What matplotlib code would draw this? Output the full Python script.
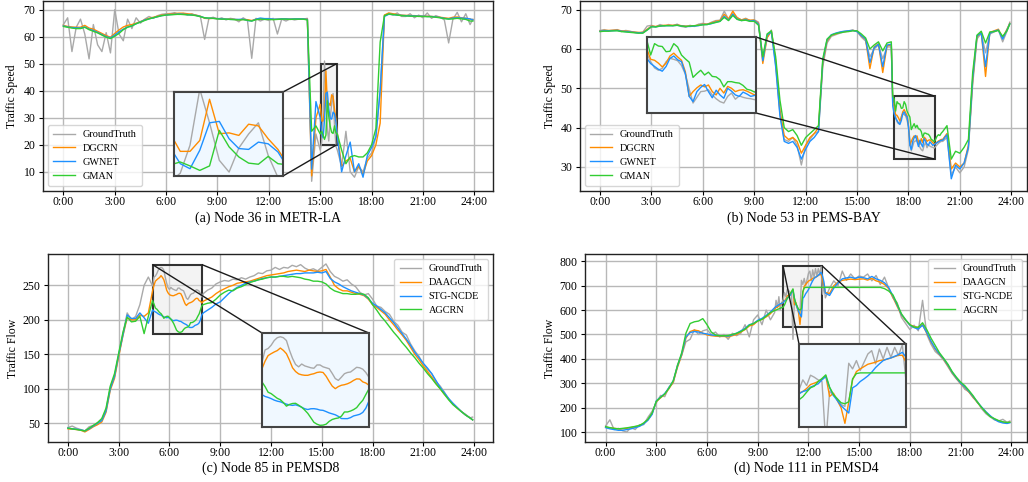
import numpy as np
import matplotlib
matplotlib.use("Agg")
import matplotlib.pyplot as plt
from mpl_toolkits.axes_grid1.inset_locator import mark_inset

plt.rcParams['font.family'] = ['Liberation Serif', 'DejaVu Serif']

# ---------------- time grid (15-min, 5-min inside zoomed hours) ----------------
def hour_grid(dense):
    t = []
    for h in range(24):
        step = 5 if h in dense else 15
        t.extend(h + m / 60 for m in range(0, 60, step))
    t.append(23 + 55 / 60)
    return np.array(t)

hour_ticks = list(range(0, 25, 3))
hour_labels = [f"{h}:00" for h in hour_ticks]

# ---------------- (a) Node 36 in METR-LA (dense hour 15) ----------------
a_names = ['GroundTruth', 'DGCRN', 'GWNET', 'GMAN']
a_gt = [64.5, 67.0, 54.5, 63.5, 66.5, 61.0, 51.8, 64.5, 57.0, 54.5, 61.5, 54.0,
        70.0, 61.0, 58.5, 66.5, 63.0, 67.0, 65.0, 66.5, 67.5, 66.8, 67.8, 68.3,
        68.5, 68.6, 68.9, 68.2, 68.6, 68.0, 68.5, 67.8, 67.5, 59.0, 66.8, 67.2,
        66.5, 67.0, 66.2, 66.8, 66.5, 65.5, 67.0, 66.0, 52.0, 66.8, 65.8, 66.5,
        66.0, 66.8, 61.0, 66.5, 65.8, 66.6, 66.2, 66.5, 66.5, 66.8, 6.5, 24.0,
        18.0, 21.0, 31.0, 51.0, 39.0, 25.6, 21.4, 30.0, 35.0, 39.0, 27.4, 19.5,
        18.0, 12.0, 25.0, 10.0, 8.0, 12.0, 10.0, 15.0, 17.0, 23.0, 40.0, 68.0,
        68.5, 68.0, 68.8, 67.5, 67.5, 68.5, 67.0, 68.0, 67.0, 68.8, 66.8, 67.8,
        67.2, 66.2, 57.7, 66.5, 69.0, 65.5, 68.5, 64.5, 66.5]
a_dgcrn = [64.2, 63.8, 63.6, 63.5, 63.5, 64.2, 63.2, 62.8, 62.0, 61.2, 60.4, 59.8,
           61.2, 62.5, 63.6, 64.2, 64.5, 65.0, 65.6, 66.3, 66.8, 67.2, 67.6, 68.0,
           68.2, 68.4, 68.6, 68.7, 68.7, 68.5, 68.3, 68.0, 67.6, 66.8, 66.7, 66.8,
           66.7, 66.6, 66.5, 66.5, 66.4, 66.3, 66.4, 66.3, 66.0, 66.5, 66.6, 66.5,
           66.5, 66.4, 66.5, 66.6, 66.6, 66.5, 66.6, 66.6, 66.6, 66.5, 8.5, 30.0,
           35.0, 28.8, 28.8, 32.7, 47.4, 35.1, 35.4, 34.5, 38.5, 37.9, 33.3, 29.5,
           24.0, 12.0, 14.0, 15.0, 10.0, 12.0, 9.0, 14.0, 16.0, 20.0, 28.0, 68.0,
           68.8, 68.5, 68.2, 68.0, 67.9, 67.8, 67.8, 67.7, 67.6, 67.6, 67.5, 67.4,
           67.2, 67.0, 66.8, 67.2, 67.3, 67.0, 66.8, 66.5, 66.3]
a_gwnet = [64.0, 63.6, 63.4, 63.3, 63.2, 63.6, 62.8, 62.3, 61.6, 60.8, 60.0, 59.6,
           60.6, 61.8, 62.8, 63.6, 64.0, 64.8, 65.5, 66.2, 66.6, 67.0, 67.4, 67.8,
           68.0, 68.2, 68.3, 68.4, 68.3, 68.2, 68.0, 67.9, 67.5, 67.0, 66.8, 66.8,
           66.7, 66.6, 66.5, 66.4, 66.4, 66.4, 66.5, 66.0, 65.8, 66.5, 66.9, 66.7,
           66.7, 66.5, 66.5, 66.6, 66.6, 66.5, 66.6, 66.6, 66.6, 66.4, 11.0, 36.0,
           30.0, 24.4, 22.6, 29.2, 39.0, 39.5, 33.3, 29.8, 29.5, 32.1, 31.5, 28.6,
           23.0, 10.0, 16.0, 21.0, 10.0, 13.0, 8.0, 16.0, 19.0, 23.0, 40.0, 67.5,
           68.3, 68.2, 68.0, 67.9, 67.8, 67.7, 67.7, 67.6, 67.6, 67.5, 67.5, 67.3,
           67.1, 66.8, 66.6, 66.9, 67.0, 66.9, 66.8, 66.6, 66.2]
a_gman = [63.8, 63.5, 63.2, 63.0, 63.0, 63.5, 62.6, 62.0, 61.4, 60.6, 59.8, 59.3,
          60.2, 61.2, 62.6, 63.5, 64.0, 64.8, 65.4, 66.0, 66.6, 67.0, 67.4, 67.8,
          68.0, 68.1, 68.2, 68.3, 68.2, 68.1, 68.0, 67.8, 67.4, 67.0, 66.9, 66.8,
          66.6, 66.5, 66.5, 66.4, 66.3, 66.2, 66.3, 66.1, 65.8, 66.3, 66.5, 66.4,
          66.4, 66.3, 66.4, 66.5, 66.5, 66.4, 66.5, 66.5, 66.5, 66.2, 25.0, 27.0,
          24.0, 25.0, 23.6, 22.0, 23.6, 36.3, 30.4, 26.8, 24.6, 24.2, 27.0, 24.4,
          24.0, 18.0, 13.0, 15.5, 16.0, 15.5, 15.5, 17.0, 20.0, 26.0, 58.0, 67.8,
          68.4, 68.2, 68.0, 67.8, 67.7, 67.6, 67.6, 67.5, 67.5, 67.4, 67.4, 67.2,
          67.0, 66.7, 66.5, 66.6, 66.8, 66.6, 66.4, 65.8, 65.8]
a_yticks = [10, 20, 30, 40, 50, 60, 70]

# ---------------- (b) Node 53 in PEMS-BAY (dense hours 17-19) ----------------
b_names = ['GroundTruth', 'DGCRN', 'GWNET', 'GMAN']
b_gt = [64.7, 64.9, 64.6, 64.8, 64.9, 64.4, 64.7, 64.5, 64.2, 64.0, 64.3, 65.8,
        66.0, 65.6, 66.2, 65.8, 66.2, 65.9, 66.3, 65.7, 65.5, 66.0, 65.7, 66.3,
        66.5, 66.2, 66.8, 67.2, 67.3, 69.6, 67.5, 69.0, 68.0, 67.3, 67.8, 67.2,
        67.4, 66.8, 57.5, 63.0, 64.8, 56.0, 43.5, 37.0, 36.5, 37.5, 35.5, 30.5,
        35.5, 37.0, 38.5, 39.0, 55.5, 61.5, 63.2, 63.6, 64.0, 64.3, 64.6, 64.8,
        64.4, 63.0, 62.0, 58.0, 60.0, 61.0, 57.5, 60.5,
        60.5, 46.0, 44.5, 42.8, 41.5, 41.0, 41.4, 42.8, 43.5, 43.3, 43.0, 42.0,
        40.2, 37.0, 34.1, 35.3, 36.5, 36.6, 36.9, 35.8, 35.0, 34.4, 34.1, 35.5,
        36.2, 34.9, 35.6, 35.3, 35.1, 35.0, 34.8, 35.2, 35.6, 36.0, 36.3, 36.5,
        36.5, 37.5, 28.0, 30.0, 28.5, 30.0, 34.5, 51.0, 62.5, 64.0, 59.0, 63.8,
        64.3, 64.8, 61.8, 64.5, 66.8]
b_dgcrn = [64.6, 64.7, 64.7, 64.7, 64.8, 64.6, 64.5, 64.4, 64.3, 64.2, 64.2, 65.0,
           65.8, 65.7, 65.9, 66.0, 66.0, 66.0, 66.1, 65.9, 65.8, 65.8, 65.9, 66.0,
           66.3, 66.3, 66.6, 67.0, 67.2, 68.8, 67.6, 69.6, 67.9, 67.4, 67.6, 67.3,
           67.3, 66.5, 56.3, 62.8, 64.5, 57.0, 44.5, 38.0, 37.0, 37.5, 36.5, 33.5,
           35.5, 37.5, 38.5, 40.0, 56.5, 62.0, 63.5, 63.8, 64.2, 64.4, 64.5, 64.7,
           64.5, 63.3, 62.4, 55.0, 60.5, 61.3, 54.0, 60.8,
           61.0, 46.5, 45.5, 43.3, 43.1, 42.5, 41.7, 42.5, 44.0, 44.6, 43.8, 43.1,
           40.7, 35.5, 36.5, 37.3, 37.9, 37.5, 37.9, 36.5, 35.8, 37.2, 36.2, 37.6,
           37.2, 36.5, 36.8, 36.9, 36.6, 36.2, 35.8, 36.0, 36.3, 36.6, 36.8, 37.0,
           37.0, 38.5, 29.5, 31.0, 30.0, 31.0, 35.5, 52.0, 63.0, 64.3, 53.0, 64.2,
           64.6, 65.0, 62.8, 65.0, 66.5]
b_gwnet = [64.5, 64.6, 64.6, 64.6, 64.7, 64.5, 64.4, 64.3, 64.2, 64.1, 64.1, 64.8,
           65.7, 65.6, 65.8, 65.9, 65.9, 65.9, 66.0, 65.8, 65.7, 65.7, 65.8, 65.9,
           66.2, 66.2, 66.4, 66.8, 67.0, 68.3, 67.3, 68.8, 67.6, 67.2, 67.4, 67.1,
           67.2, 66.3, 57.0, 63.5, 64.3, 55.5, 43.0, 36.5, 36.0, 36.5, 35.0, 32.0,
           34.5, 36.5, 37.5, 39.0, 57.0, 62.3, 63.6, 64.0, 64.3, 64.5, 64.6, 64.7,
           64.4, 63.4, 62.5, 56.5, 60.3, 61.2, 55.5, 61.0,
           61.2, 45.5, 43.5, 42.4, 41.8, 41.2, 40.8, 41.8, 43.5, 44.0, 43.2, 42.8,
           40.3, 35.5, 34.4, 36.5, 37.4, 38.0, 36.5, 35.2, 36.8, 35.8, 35.1, 37.2,
           36.6, 35.8, 35.5, 36.4, 36.0, 35.5, 35.7, 35.9, 36.2, 36.4, 36.6, 36.8,
           36.8, 38.2, 27.0, 30.5, 29.5, 31.0, 35.0, 52.5, 63.3, 64.0, 55.5, 64.0,
           64.5, 64.8, 62.5, 64.8, 66.4]
b_gman = [64.4, 64.5, 64.5, 64.6, 64.6, 64.4, 64.3, 64.2, 64.1, 64.0, 64.0, 64.8,
          65.6, 65.6, 65.8, 65.9, 65.9, 65.9, 66.0, 65.8, 65.7, 65.8, 65.9, 66.0,
          66.1, 66.2, 66.5, 66.7, 67.0, 68.0, 67.2, 68.5, 67.5, 67.2, 67.3, 67.0,
          67.0, 66.0, 58.0, 63.8, 64.6, 58.0, 47.0, 40.0, 39.0, 39.5, 38.0, 35.5,
          37.5, 38.5, 39.5, 40.5, 57.5, 62.5, 63.5, 63.9, 64.1, 64.3, 64.4, 64.6,
          64.6, 63.8, 62.8, 60.0, 61.0, 61.8, 59.5, 61.5,
          61.8, 48.0, 47.3, 44.2, 46.6, 46.1, 46.0, 44.9, 45.0, 46.6, 45.9, 44.2,
          43.4, 42.7, 39.5, 40.3, 41.0, 40.0, 40.6, 39.7, 39.6, 39.0, 37.5, 38.6,
          38.6, 38.4, 38.3, 37.8, 37.0, 36.8, 36.4, 37.0, 37.8, 38.2, 38.0, 38.6,
          39.0, 40.5, 32.0, 34.0, 33.5, 35.0, 37.0, 54.0, 63.5, 64.5, 61.5, 64.3,
          64.4, 64.7, 63.2, 64.6, 66.3]
b_yticks = [30, 40, 50, 60, 70]

# ---------------- (c) Node 85 in PEMSD8 (dense hours 5-7) ----------------
c_names = ['GroundTruth', 'DAAGCN', 'STG-NCDE', 'AGCRN']
c_gt = [44, 46, 43, 41, 39, 45, 47, 51, 56, 70, 102, 118,
        148, 180, 210, 200, 205, 222, 250, 262,
        249, 262, 263.5, 267, 272, 275, 276, 275, 272, 261.6, 253, 246.5,
        244, 247, 245, 244, 243, 242.5, 246, 246, 244, 243, 242, 237,
        231.5, 229.6, 233, 236.7, 238, 238.5, 241, 243.5, 243, 241.5, 238, 233,
        238, 243, 246, 252, 255, 257, 256, 259, 258, 261, 259, 262,
        264, 268, 267, 271, 272, 276, 273, 276, 275, 279, 277, 280,
        275, 272, 274, 271, 276, 281, 270, 263, 260, 256, 258, 252,
        248, 240, 236, 238, 230, 220, 218, 212, 208, 198, 192, 182,
        178, 165, 155, 147, 136, 128, 122, 110, 104, 95, 85, 79,
        73, 67, 63, 58, 59]
c_daagcn = [42, 41.5, 41, 40, 37.5, 41, 45, 48, 52, 66, 98, 115,
            147, 177, 203, 200, 200, 207, 205, 210,
            242, 250, 256, 258, 259.8, 261.3, 264, 261.5, 258, 251, 243, 239,
            236.5, 235.5, 235, 235, 236, 236.7, 238, 238.5, 238, 234, 228.5, 223.5,
            220.8, 223, 224.4, 225, 226, 227.5, 229.6, 231.2, 231, 228, 226.8, 224.5,
            227, 230, 233, 238, 242, 245, 248, 250, 253, 254, 255, 256,
            258, 260, 262, 264, 265, 266, 267, 268, 270, 271, 272, 271,
            270, 272, 271, 270, 271, 273, 262, 250, 245, 242, 242, 240,
            238, 237, 235, 230, 222, 218, 213, 208, 200, 193, 185, 178,
            170, 160, 150, 142, 133, 125, 117, 108, 100, 92, 85, 78,
            72, 67, 62, 58, 55]
c_stgncde = [43, 42, 41.5, 40.5, 39, 42, 46, 50, 54, 68, 100, 118,
             150, 178, 207, 202, 202, 210, 203, 195,
             214.4, 212.5, 211.5, 210.2, 208.6, 207.5, 206.8, 205.5, 204.3, 203.5, 203, 203.6,
             202.5, 201, 199.4, 198.6, 199.4, 199.5, 199, 198, 197.7, 196.4, 195, 194,
             193, 191.3, 189, 188.9, 188.9, 190, 191.8, 192.6, 193.5, 195.5, 200, 207.5,
             210, 214, 218, 223, 226, 232, 238, 243, 247, 250, 253, 255,
             256, 258, 260, 261, 262, 262, 263, 264, 265, 266, 267, 267,
             268, 268, 268, 269, 268, 270, 260, 255, 252, 248, 245, 242,
             240, 238, 236, 231, 224, 220, 215, 210, 203, 196, 188, 180,
             172, 163, 153, 145, 137, 130, 122, 112, 102, 94, 86, 79,
             73, 67, 62, 58, 55]
c_agcrn = [43, 42, 41, 40, 39, 43, 47, 51, 57, 72, 104, 122,
           152, 182, 204, 197, 198, 205, 180, 205,
           227.9, 223, 217, 215.5, 213, 210.5, 209, 206, 202.2, 204, 205, 205.2,
           203.2, 201, 198, 194.5, 189.8, 185, 183, 181.8, 182, 183, 186, 188,
           189, 189.6, 191.5, 196, 196, 197, 198.5, 200.6, 204.8, 208.4, 214.5, 220.5,
           222, 224, 225, 230, 236, 240, 243, 242, 246, 248, 251, 254,
           256, 258, 259, 261, 262, 262, 263, 263, 262, 263, 262, 261,
           259, 258, 256, 256, 255, 252, 246, 242, 240, 238, 238, 237,
           237, 238, 237, 232, 222, 214, 205, 198, 190, 182, 175, 167,
           160, 152, 145, 137, 130, 122, 115, 107, 100, 92, 84, 77,
           72, 67, 62, 58, 55]
c_yticks = [50, 100, 150, 200, 250]

# ---------------- (d) Node 111 in PEMSD4 (dense hours 10-12) ----------------
d_names = ['GroundTruth', 'DAAGCN', 'STG-NCDE', 'AGCRN']
d_gt = [125, 150, 110, 115, 105, 100, 118, 110, 130, 130, 160, 185,
        220, 250, 245, 285, 300, 375, 415, 470, 480, 520, 500, 515,
        520, 500, 510, 490, 500, 480, 505, 495, 505, 540, 490, 560,
        580, 540, 600, 560,
        590, 640, 610, 655, 600, 630, 642, 672, 655, 686, 680, 672,
        667, 480, 638, 625, 615, 598, 592, 722, 705, 730, 700, 725,
        750, 760, 720, 765, 735, 770, 740, 770, 745, 778, 665, 700,
        650, 690, 720, 700, 760, 722, 748, 728, 740, 735, 748, 720,
        742, 705, 735, 690, 650, 630, 570, 545, 520, 538, 515, 640,
        500, 460, 430, 415, 395, 368, 340, 318, 300, 275, 265, 240,
        225, 195, 175, 162, 150, 145, 152, 140, 145]
d_daagcn = [120, 117, 115, 113, 113, 115, 118, 122, 125, 135, 150, 175,
            225, 240, 255, 278, 305, 365, 415, 485, 512, 518, 515, 505,
            498, 495, 493, 492, 492, 490, 495, 500, 510, 520, 535, 540,
            555, 562, 572, 585,
            605, 610, 612, 618, 622, 628, 632, 637, 646, 658, 662, 667,
            674, 684, 622, 632, 610, 588, 541, 605, 672, 697, 705, 712,
            719, 722, 725, 730, 732, 734, 738, 742, 746, 746, 725, 700,
            672, 668, 700, 715, 722, 725, 727, 725, 727, 728, 723, 730,
            720, 715, 705, 688, 652, 615, 580, 558, 540, 532, 528, 540,
            505, 470, 440, 418, 398, 372, 343, 320, 298, 283, 263, 242,
            220, 200, 182, 165, 153, 145, 140, 138, 140]
d_stgncde = [118, 113, 110, 107, 107, 110, 113, 118, 123, 133, 148, 172,
             228, 243, 258, 282, 310, 370, 420, 490, 508, 512, 510, 505,
             502, 498, 496, 495, 495, 493, 498, 505, 515, 525, 540, 545,
             558, 566, 578, 592,
             610, 615, 618, 622, 625, 628, 630, 637, 640, 650, 655, 660,
             672, 682, 648, 625, 610, 594, 583, 572, 648, 655, 667, 675,
             684, 695, 709, 720, 730, 735, 738, 743, 748, 755, 740, 715,
             670, 660, 690, 712, 728, 732, 735, 730, 735, 733, 728, 738,
             728, 722, 712, 692, 658, 620, 582, 560, 538, 528, 522, 538,
             508, 472, 442, 420, 400, 375, 345, 322, 300, 285, 266, 245,
             222, 202, 183, 167, 152, 142, 137, 135, 138]
d_agcrn = [122, 118, 115, 113, 115, 117, 120, 123, 127, 137, 152, 178,
           226, 242, 256, 280, 310, 372, 425, 505, 545, 552, 555, 565,
           540, 510, 498, 495, 495, 496, 500, 505, 512, 522, 538, 545,
           555, 562, 575, 590,
           598, 600, 603, 605, 608, 610, 612, 621, 635, 648, 653, 667,
           676, 687, 650, 628, 615, 603, 600, 606, 675, 691, 693, 693,
           693, 693, 693, 693, 693, 693, 693, 693, 693, 693, 693, 693,
           693, 693, 693, 693, 693, 693, 693, 693, 693, 693, 693, 693,
           693, 693, 688, 678, 662, 625, 585, 560, 540, 530, 530, 548,
           520, 485, 455, 425, 402, 378, 348, 325, 305, 290, 270, 248,
           222, 200, 180, 163, 155, 147, 142, 139, 140]
d_yticks = [100, 200, 300, 400, 500, 600, 700, 800]

# ---------------- styling ----------------
colors = ['#a9a9a9', '#ff8c00', '#1e90ff', '#32cd32']
W, H = 1028, 482
fig = plt.figure(figsize=(W / 100, H / 100), dpi=100)


def px_rect(l, t, r, b):
    return [l / W, 1 - b / H, (r - l) / W, (b - t) / H]


panels = [
    dict(t=hour_grid({15}), series=[a_gt, a_dgcrn, a_gwnet, a_gman], names=a_names,
         ylabel='Traffic Speed', caption='(a) Node 36 in METR-LA', box=(43, 0.5, 493, 191),
         xlim=(-1.19, 25.09), ylim=(2.9, 73.4), yticks=a_yticks, leg='lower left',
         ins=(174, 92, 283, 176), zx=(15.03, 15.96), zy=(20, 50), locs=(1, 4),
         ylab_x=18, cap_y=211.5),
    dict(t=hour_grid({17, 18, 19}), series=[b_gt, b_dgcrn, b_gwnet, b_gman], names=b_names,
         ylabel='Traffic Speed', caption='(b) Node 53 in PEMS-BAY', box=(580, 0.5, 1027, 191),
         xlim=(-1.17, 24.92), ylim=(23.9, 72.3), yticks=b_yticks, leg='lower left',
         ins=(647, 37, 756, 113), zx=(17.17, 19.53), zy=(32, 48), locs=(1, 4),
         ylab_x=556, cap_y=211.5),
    dict(t=hour_grid({5, 6, 7}), series=[c_gt, c_daagcn, c_stgncde, c_agcrn], names=c_names,
         ylabel='Traffic Flow', caption='(c) Node 85 in PEMSD8', box=(48, 254, 493, 442),
         xlim=(-1.18, 25.12), ylim=(22.9, 295.4), yticks=c_yticks, leg='upper right',
         ins=(262, 333, 369, 427), zx=(5.0, 7.92), zy=(180, 280), locs=(2, 1),
         ylab_x=19, cap_y=461.5),
    dict(t=hour_grid({10, 11, 12}), series=[d_gt, d_daagcn, d_stgncde, d_agcrn], names=d_names,
         ylabel='Traffic Flow', caption='(d) Node 111 in PEMSD4', box=(585, 254, 1027, 442),
         xlim=(-1.22, 24.93), ylim=(59, 830), yticks=d_yticks, leg='upper right',
         ins=(799, 344, 906, 427), zx=(10.5, 12.83), zy=(530, 780), locs=(2, 1),
         ylab_x=556, cap_y=461.5),
]

for p in panels:
    t = p['t']
    for name, s in zip(p['names'], p['series']):
        assert len(s) == len(t), (p['caption'], name, len(s), len(t))
    l, tp, r, b = p['box']
    ax = fig.add_axes(px_rect(l, tp, r, b))
    for s, name, c in zip(p['series'], p['names'], colors):
        ax.plot(t, s, color=c, lw=1.0, label=name)
    ax.set_xlim(*p['xlim'])
    ax.set_ylim(*p['ylim'])
    ax.set_xticks(hour_ticks)
    ax.set_xticklabels(hour_labels)
    ax.set_yticks(p['yticks'])
    ax.tick_params(axis='x', labelsize=8.5, length=3, pad=0.8, width=0.8)
    ax.tick_params(axis='y', labelsize=8.5, length=3, pad=2.5, width=0.8)
    ax.grid(True, color='#b8b8b8', lw=1.0)
    ax.set_axisbelow(True)
    for sp in ax.spines.values():
        sp.set_color('#222222')
        sp.set_linewidth(1.0)
    ax.set_ylabel(p['ylabel'], fontsize=8.5)
    ax.yaxis.set_label_coords((p['ylab_x'] - l) / (r - l), 0.5)
    ax.set_xlabel(p['caption'], fontsize=10)
    ax.xaxis.set_label_coords(0.5, -(p['cap_y'] - b) / (b - tp))
    ax.legend(loc=p['leg'], fontsize=7.4, labelspacing=0.45, handlelength=2.1,
              borderpad=0.5, handletextpad=0.75, framealpha=0.8, edgecolor='#cccccc')

    il, it, ir, ib = p['ins']
    axins = fig.add_axes(px_rect(il, it, ir, ib))
    for s, c in zip(p['series'], colors):
        axins.plot(t, s, color=c, lw=1.0)
    axins.set_xlim(*p['zx'])
    axins.set_ylim(*p['zy'])
    axins.set_xticks([])
    axins.set_yticks([])
    axins.set_facecolor('#f0f8ff')
    for sp in axins.spines.values():
        sp.set_color('#444444')
        sp.set_linewidth(1.5)
    pp, c1, c2 = mark_inset(ax, axins, loc1=p['locs'][0], loc2=p['locs'][1],
                            fc='#e6e6e6', ec='#1a1a1a', lw=1.0)
    pp.set_alpha(None)
    pp.set_facecolor((0.9, 0.9, 0.9, 0.45))
    pp.set_edgecolor('#333333')
    pp.set_linewidth(1.5)

fig.savefig('out.png', dpi=100)
